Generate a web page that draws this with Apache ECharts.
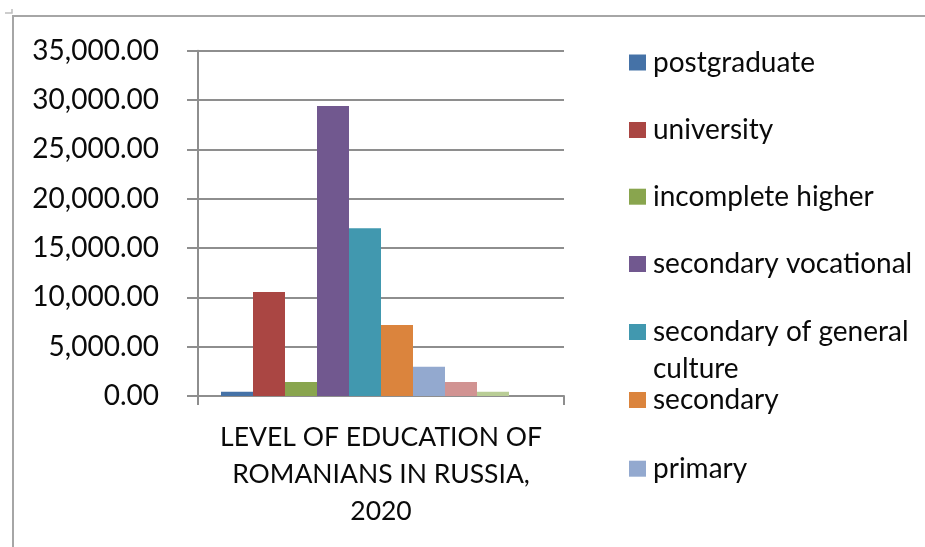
<!DOCTYPE html>
<html>
<head>
<meta charset="utf-8">
<script src="https://cdn.jsdelivr.net/npm/echarts@6/dist/echarts.min.js"></script>
<style>
  html, body { margin: 0; padding: 0; background: #ffffff; }
  #chart { width: 925px; height: 547px; }
</style>
</head>
<body>
<div id="chart"></div>
<script>
// Education levels (one series per level) for a single category
const categories = ['LEVEL OF EDUCATION OF\nROMANIANS IN RUSSIA,\n2020'];
const levelNames = [
  'postgraduate',
  'university',
  'incomplete higher',
  'secondary vocational',
  'secondary of general culture',
  'secondary',
  'primary',
  'no primary',
  'illiterate',
  'not stated'
];
const levelValues = [440, 10550, 1420, 29400, 17000, 7200, 2970, 1420, 430, 0];
const levelColors = [
  '#4572A7', '#AA4643', '#89A54E', '#71588F', '#4198AF',
  '#DB843D', '#93A9CF', '#D19392', '#B9CD96', '#A99BBD'
];
// Names listed in the legend panel
const legendNames = levelNames.slice(0, 7);
// Value axis ticks
const yMin = 0, yMax = 35000, yStep = 5000;

const FONT = 'Lato';
const TEXT = '#0a0a0a';
const LINE = '#8e8e8e';

function fmt(v) {
  return String(Math.round(v)).replace(/\B(?=(\d{3})+(?!\d))/g, ',') + '.00';
}

// Legend rows: vertical centre of each key
const legendCentres = [62.5, 130, 196.7, 264, 332, 400, 468.7];

const legends = legendNames.map((name, i) => {
  const twoLine = name === 'secondary of general culture';
  return {
    show: true,
    data: [name],
    orient: 'vertical',
    left: 629,
    // the wrapped entry keeps its key beside the first line: an empty
    // leading line centres the key on the middle (first real) line
    top: twoLine ? legendCentres[i] - 55.5 : legendCentres[i] - 15,
    padding: 0,
    itemWidth: 17,
    itemHeight: 16,
    icon: 'rect',
    selectedMode: false,
    formatter: twoLine ? '\u00a0\nsecondary of general\nculture' : '{name}',
    textStyle: {
      fontFamily: FONT,
      fontSize: 28,
      color: TEXT,
      lineHeight: twoLine ? 37 : 30,
      padding: [0, 0, 0, 2]
    }
  };
});

const chart = echarts.init(document.getElementById('chart'), null, { renderer: 'canvas' });

chart.setOption({
  backgroundColor: '#ffffff',
  animation: false,
  textStyle: { fontFamily: FONT },
  grid: { left: 198, right: 361, top: 50.7, bottom: 151, containLabel: false },
  legend: legends,
  xAxis: {
    type: 'category',
    data: categories,
    boundaryGap: true,
    axisLine: { show: true, lineStyle: { color: LINE, width: 2 } },
    axisTick: { show: true, length: 9, lineStyle: { color: LINE, width: 2 } },
    axisLabel: {
      margin: 23,
      fontFamily: FONT,
      fontSize: 26.5,
      color: TEXT,
      lineHeight: 37,
      align: 'center'
    },
    splitLine: { show: false }
  },
  yAxis: {
    type: 'value',
    min: yMin,
    max: yMax,
    interval: yStep,
    axisLine: { show: true, lineStyle: { color: LINE, width: 2 } },
    axisTick: { show: true, length: 11, lineStyle: { color: LINE, width: 2 } },
    axisLabel: {
      margin: 39,
      fontFamily: FONT,
      fontSize: 28,
      color: TEXT,
      formatter: fmt
    },
    splitLine: { show: true, lineStyle: { color: LINE, width: 2 } }
  },
  series: levelNames.map((name, i) => ({
    name: name,
    type: 'bar',
    data: [levelValues[i]],
    barGap: '0%',
    barCategoryGap: '12.57%',
    itemStyle: { color: levelColors[i] },
    emphasis: { disabled: true }
  })),
  graphic: [
    {
      type: 'polyline',
      silent: true,
      shape: { points: [[13, 547], [13, 16], [925, 16]] },
      style: { stroke: '#a6a6a6', lineWidth: 2, fill: null }
    },
    {
      type: 'polyline',
      silent: true,
      shape: { points: [[5, 13], [12, 13], [12, 9]] },
      style: { stroke: '#bdbdbd', lineWidth: 1.5, fill: null }
    }
  ]
});
</script>
</body>
</html>
